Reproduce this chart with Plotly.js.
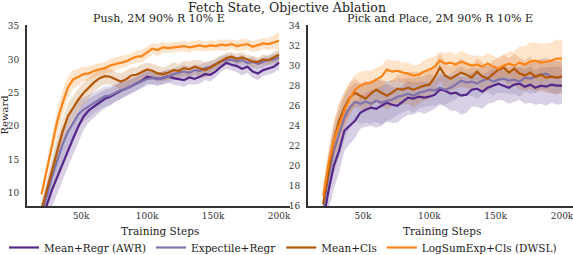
<!DOCTYPE html>
<html>
<head>
<meta charset="utf-8">
<script src="https://cdn.plot.ly/plotly-3.0.1.min.js"></script>
<style>html,body{margin:0;padding:0;background:#fff}#chart{width:573px;height:255px}</style>
</head>
<body>
<div id="chart"></div>
<script>
// Training steps (thousands)
const steps = [20,24,28,32,36,40,44,48,52,56,60,64,68,72,76,80,84,88,92,96,100,104,108,112,116,120,124,128,132,136,140,144,148,152,156,160,164,168,172,176,180,184,188,192,196,200];

const seriesNames = ["Mean+Regr (AWR)", "Expectile+Regr", "Mean+Cls", "LogSumExp+Cls (DWSL)"];

// Push panel: mean reward and band half-width
const pushAWR = [5.5,8.2,10.5,12.5,14.5,16.5,18.2,20.0,21.5,22.4,23.0,23.6,24.1,24.4,24.9,25.3,25.6,26.0,26.4,26.8,27.4,27.3,27.1,27.2,27.5,27.2,27.0,26.9,27.3,27.1,27.4,27.8,27.7,28.2,28.9,29.5,29.2,29.0,28.6,28.9,28.2,27.9,28.4,28.7,28.9,29.5];
const pushAWRsd = [1.5,2.0,2.3,2.5,2.6,2.6,2.5,2.3,2.0,1.8,1.6,1.5,1.4,1.3,1.2,1.2,1.1,1.1,1.0,1.0,1.0,1.0,0.9,1.0,0.9,1.0,0.9,1.0,1.0,0.9,1.0,0.9,1.0,0.9,0.8,0.9,0.8,0.9,1.0,0.9,1.0,1.0,0.9,1.0,0.9,1.0];
const pushExp = [7.0,9.5,12.5,15.0,17.3,19.2,20.6,21.8,22.5,23.0,23.6,24.0,24.5,24.6,25.0,25.4,25.6,26.0,26.3,26.8,27.1,27.2,27.0,27.3,27.4,27.8,28.0,28.2,28.0,28.4,28.3,28.7,28.9,29.3,29.7,29.9,30.0,29.7,29.9,29.5,29.6,29.3,29.6,29.9,30.0,30.3];
const pushExpsd = [1.5,2.0,2.3,2.5,2.5,2.4,2.2,2.0,1.8,1.7,1.6,1.5,1.5,1.4,1.3,1.3,1.2,1.2,1.1,1.1,1.0,1.0,1.0,0.9,1.0,0.9,0.9,1.0,0.9,0.8,0.9,0.8,0.8,0.7,0.8,0.7,0.8,0.7,0.8,0.7,0.8,0.7,0.8,0.7,0.8,0.8];
const pushCls = [7.5,10.5,13.5,16.5,19.2,21.5,22.8,24.0,25.0,25.8,26.6,27.2,27.5,27.4,27.0,26.7,27.0,27.6,27.7,28.1,28.5,28.3,27.9,27.8,28.0,28.4,28.3,28.7,28.5,28.9,28.6,28.4,28.8,29.3,29.8,30.2,30.4,30.1,30.3,30.0,29.7,29.6,30.0,29.9,30.3,30.7];
const pushClssd = [1.0,1.5,1.8,2.0,2.0,1.9,1.8,1.7,1.6,1.5,1.4,1.3,1.2,1.2,1.1,1.2,1.3,1.2,1.1,1.2,1.0,1.1,1.2,1.0,1.1,1.2,1.0,1.1,1.2,1.0,1.3,1.2,1.0,0.9,0.8,0.8,0.7,0.8,0.8,0.7,0.8,0.7,0.8,0.7,0.8,0.9];
const pushLSE = [9.8,13.5,17.5,20.8,23.5,25.8,27.0,27.4,27.8,27.9,28.3,28.5,28.7,29.1,29.3,29.6,29.7,30.1,30.4,30.5,31.0,31.6,31.4,31.8,31.7,31.8,31.9,32.0,31.8,32.0,32.1,31.9,32.1,32.0,32.2,32.1,32.3,32.0,32.2,32.3,31.9,32.1,32.4,32.3,32.6,32.8];
const pushLSEsd = [0.8,1.2,1.5,1.8,1.8,1.6,1.4,1.2,1.1,1.0,1.0,0.9,0.9,1.0,1.0,0.9,0.9,0.8,0.9,1.0,0.9,0.8,0.9,0.8,0.7,0.8,0.7,0.8,0.8,0.7,0.8,0.7,0.8,0.7,0.8,0.8,0.7,0.8,0.9,0.8,0.8,0.9,0.8,0.9,1.0,1.3];

// Pick and Place panel
const ppAWR = [14.5,17.5,20.0,21.5,23.5,24.0,24.5,25.3,25.6,25.8,25.7,26.0,26.3,26.1,26.0,26.4,26.8,26.7,26.9,26.8,26.9,27.1,27.6,27.5,27.2,27.3,27.0,27.1,27.6,27.7,27.4,27.8,28.0,28.2,28.0,27.8,28.1,28.2,27.9,28.1,27.8,28.0,27.9,28.1,28.0,28.0];
const ppAWRsd = [1.5,2.0,2.3,2.2,2.0,1.8,1.7,1.6,1.7,1.8,1.9,2.0,1.9,1.8,1.7,1.6,1.7,1.6,1.5,1.6,1.5,1.4,1.5,1.6,1.7,1.8,1.9,1.8,1.7,1.8,1.7,1.6,1.7,1.6,1.5,1.6,1.7,1.6,1.7,1.8,1.7,1.8,1.9,1.8,1.9,1.8];
const ppExp = [15.5,19.0,21.5,23.2,24.8,25.8,26.4,26.2,26.4,26.2,26.5,26.3,26.5,26.6,26.9,27.0,27.2,27.0,27.3,27.4,27.6,27.5,27.8,27.6,27.8,28.1,28.5,28.3,28.4,28.2,28.5,28.7,28.4,28.6,28.7,28.5,28.6,28.4,28.8,28.7,28.9,29.1,29.2,28.9,28.8,28.9];
const ppExpsd = [1.5,2.0,2.3,2.4,2.2,2.0,1.9,2.0,2.1,2.0,2.1,2.2,2.0,1.9,1.8,1.7,1.6,1.7,1.6,1.5,1.6,1.5,1.6,1.5,1.4,1.5,1.4,1.3,1.4,1.5,1.4,1.3,1.4,1.3,1.4,1.3,1.4,1.5,1.4,1.5,1.6,1.5,1.6,1.7,1.6,1.5];
const ppCls = [16.2,19.5,22.5,24.5,25.8,26.8,27.3,27.0,26.7,27.2,27.6,27.3,27.0,27.3,27.7,27.6,27.8,27.6,27.8,28.0,28.1,28.8,29.8,29.0,28.7,29.0,29.3,29.1,28.8,29.4,28.9,28.7,29.2,29.6,29.8,29.3,29.7,29.2,29.0,29.3,28.9,29.1,28.8,28.9,28.8,28.9];
const ppClssd = [1.0,1.6,1.8,1.8,1.6,1.5,1.4,1.3,1.2,1.3,1.2,1.3,1.4,1.3,1.4,1.5,1.6,1.8,1.6,1.5,1.4,1.3,1.4,1.3,1.2,1.3,1.4,1.3,1.2,1.3,1.4,1.2,1.3,1.2,1.3,1.4,1.5,1.6,1.5,1.6,1.5,1.6,1.5,1.6,1.7,1.6];
const ppLSE = [17.0,20.2,22.5,24.0,25.5,26.7,27.6,28.0,28.2,28.3,28.6,28.9,29.6,29.4,29.5,29.3,29.2,29.0,29.1,29.4,29.6,29.9,30.5,30.2,30.3,30.1,30.4,30.2,30.0,30.1,29.9,30.2,29.9,29.7,30.0,30.2,30.0,30.3,30.1,30.4,30.5,30.3,30.4,30.5,30.7,30.7];
const ppLSEsd = [1.0,1.5,1.8,2.0,1.8,1.6,1.5,1.4,1.3,1.2,1.2,1.1,1.0,1.1,1.0,1.0,1.1,1.0,1.0,1.1,1.2,1.0,0.9,1.0,1.1,1.0,1.1,1.0,1.0,0.9,1.0,1.0,1.1,1.0,1.1,1.2,1.4,1.6,1.8,1.9,1.8,1.9,1.8,1.8,1.9,1.8];

const xTickVals = [50, 100, 150, 200];
const xTickText = ["50k", "100k", "150k", "200k"];
const pushYTicks = [10, 15, 20, 25, 30, 35];
const ppYTicks = [16, 18, 20, 22, 24, 26, 28, 30, 32, 34];

const colors = ["#542788", "#8073ac", "#b35806", "#ff8418"];
const fills = ["rgba(84,39,136,0.22)", "rgba(128,115,172,0.25)", "rgba(179,88,6,0.2)", "rgba(255,132,24,0.22)"];

const panels = [
  {xa: "x", ya: "y", means: [pushAWR, pushExp, pushCls, pushLSE], sds: [pushAWRsd, pushExpsd, pushClssd, pushLSEsd], legend: true},
  {xa: "x2", ya: "y2", means: [ppAWR, ppExp, ppCls, ppLSE], sds: [ppAWRsd, ppExpsd, ppClssd, ppLSEsd], legend: false}
];

const traces = [];
panels.forEach(p => {
  p.means.forEach((m, i) => {
    const sd = p.sds[i];
    const up = m.map((v, k) => v + sd[k]);
    const lo = m.map((v, k) => v - sd[k]);
    traces.push({
      x: steps.concat(steps.slice().reverse()),
      y: up.concat(lo.slice().reverse()),
      xaxis: p.xa, yaxis: p.ya, type: "scatter", mode: "lines",
      fill: "toself", fillcolor: fills[i], line: {width: 0, color: fills[i]},
      hoverinfo: "skip", showlegend: false
    });
  });
});
panels.forEach(p => {
  p.means.forEach((m, i) => {
    traces.push({
      x: steps, y: m, xaxis: p.xa, yaxis: p.ya, type: "scatter", mode: "lines",
      name: seriesNames[i], line: {color: colors[i], width: 2.2},
      showlegend: p.legend, legendgroup: seriesNames[i]
    });
  });
});

const tickFont = {family: "DejaVu Serif", size: 9, color: "#333"};
const axisCommon = {
  showgrid: false, zeroline: false, showline: true, linecolor: "#333", linewidth: 2,
  ticks: "outside", ticklen: 4, tickcolor: "rgba(0,0,0,0)", tickfont: tickFont, fixedrange: true,
  ticklabeloverflow: "allow", automargin: false
};
const W = 573, H = 255;

const layout = {
  width: W, height: H,
  margin: {l: 0, r: 0, t: 0, b: 0, autoexpand: false},
  paper_bgcolor: "#fff", plot_bgcolor: "#fff",
  font: {family: "DejaVu Serif", color: "#222"},
  title: {text: "Fetch State, Objective Ablation", x: 287 / W, xanchor: "center", y: 1 - 8 / H, yanchor: "middle", font: {family: "DejaVu Serif", size: 12.5, color: "#222"}},
  xaxis: Object.assign({}, axisCommon, {domain: [27 / W, 290 / W], range: [9, 208.3], tickvals: xTickVals, ticktext: xTickText, anchor: "y", ticklen: 0}),
  yaxis: Object.assign({}, axisCommon, {domain: [1 - 206 / H, 1 - 25 / H], range: [8.06, 35.15], tickvals: pushYTicks, ticktext: pushYTicks.map(String), anchor: "x"}),
  xaxis2: Object.assign({}, axisCommon, {domain: [308 / W, 1], range: [8.6, 208.3], tickvals: xTickVals, ticktext: xTickText, anchor: "y2", ticklen: 0}),
  yaxis2: Object.assign({}, axisCommon, {domain: [1 - 206 / H, 1 - 25 / H], range: [16, 34.05], tickvals: ppYTicks, ticktext: ppYTicks.map(String), anchor: "x2"}),
  showlegend: true,
  legend: {orientation: "h", x: 4 / W, xanchor: "left", y: 1 - 233 / H, yanchor: "top", font: {family: "DejaVu Serif", size: 10.5, color: "#222"}, bgcolor: "rgba(0,0,0,0)", itemwidth: 30, tracegroupgap: 0},
  annotations: [
    {text: "Push, 2M 90% R 10% E", xref: "paper", yref: "paper", x: 159 / W, y: 1 - 19 / H, xanchor: "center", yanchor: "middle", showarrow: false, font: {family: "DejaVu Serif", size: 11, color: "#222"}},
    {text: "Pick and Place, 2M 90% R 10% E", xref: "paper", yref: "paper", x: 440 / W, y: 1 - 19 / H, xanchor: "center", yanchor: "middle", showarrow: false, font: {family: "DejaVu Serif", size: 11, color: "#222"}},
    {text: "Training Steps", xref: "paper", yref: "paper", x: 160 / W, y: 1 - 231 / H, xanchor: "center", yanchor: "middle", showarrow: false, font: {family: "DejaVu Serif", size: 10.5, color: "#222"}},
    {text: "Training Steps", xref: "paper", yref: "paper", x: 442 / W, y: 1 - 231 / H, xanchor: "center", yanchor: "middle", showarrow: false, font: {family: "DejaVu Serif", size: 10.5, color: "#222"}},
    {text: "Reward", xref: "paper", yref: "paper", x: 4.5 / W, y: 1 - 115 / H, xanchor: "center", yanchor: "middle", textangle: -90, showarrow: false, font: {family: "DejaVu Serif", size: 10, color: "#222"}}
  ]
};

Plotly.newPlot("chart", traces, layout, {staticPlot: true, displayModeBar: false});
</script>
</body>
</html>
